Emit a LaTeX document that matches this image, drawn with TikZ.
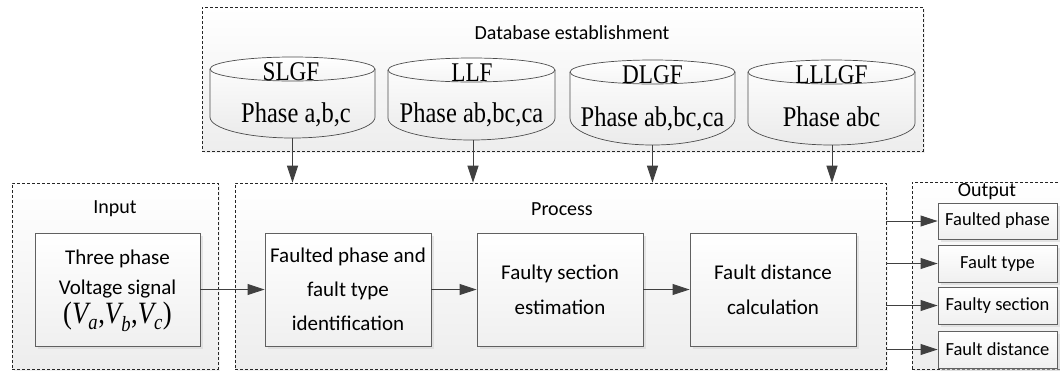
\documentclass[tikz,border=0pt]{standalone}
\usepackage{fontspec}
\setmainfont{Liberation Serif}
\newfontfamily\calfont{Carlito}
\newfontfamily\cylfont{Liberation Serif}[FakeStretch=0.86]
\usetikzlibrary{arrows.meta,shadows,fit}
\definecolor{arrgray}{HTML}{404040}
\definecolor{boxgray}{HTML}{606060}
\begin{document}
\begin{tikzpicture}[x=1bp,y=-1bp,
  grp/.style={draw=black!85, dash pattern=on 3bp off 2bp, line width=0.7bp,
    top color=white, bottom color=black!7, inner sep=0pt,
    drop shadow={shadow xshift=2bp,shadow yshift=-2bp,fill=black!10}},
  procbox/.style={draw=boxgray, line width=0.9bp, top color=white, bottom color=black!6,
    inner sep=0pt,
    drop shadow={shadow xshift=3bp,shadow yshift=-3bp,fill=black!18}},
  outbox/.style={draw=boxgray, line width=0.9bp, top color=white, bottom color=black!6,
    inner sep=0pt,
    drop shadow={shadow xshift=3bp,shadow yshift=-3bp,fill=black!18}},
  lab/.style={font=\calfont\fontsize{20bp}{24bp}\selectfont, inner sep=0pt},
  outlabel/.style={font=\calfont\fontsize{18.5bp}{22bp}\selectfont, inner sep=0pt},
  boxtext/.style={align=center, inner sep=0pt, font=\calfont\fontsize{21bp}{35bp}\selectfont},
  cylfill/.style={top color=white, bottom color=black!8},
  cylline/.style={draw=black!70, line width=0.7bp},
  cyltitle/.style={font=\cylfont\fontsize{27bp}{30bp}\selectfont, anchor=base, inner sep=0pt},
  cyltext/.style={font=\cylfont\fontsize{28.5bp}{30bp}\selectfont, anchor=base, inner sep=0pt},
  arr/.style={draw=arrgray, line width=0.9bp, -{Triangle[length=17bp,width=11bp]}},
]
\useasboundingbox (0,0) rectangle (1060,371);

% group boxes
\node[grp, fit={(202,7) (923,151)}] (db) {};
\node[grp, fit={(12,183) (218,369)}] (inp) {};
\node[grp, fit={(235,183) (886,369)}] (proc) {};
\node[grp, fit={(912,182) (1064,369)}] (outg) {};

\node[lab] (dblab) at (572,33) {Database establishment};
\node[lab] (inplab) at (115,209) {Input};
\node[lab] (proclab) at (562,209) {Process};
\node[lab] (outlab) at (987,192) {Output};

% cylinders
\path[cylfill] (210,69) -- (210,117) arc[start angle=180,end angle=360,x radius=82.5bp,y radius=21bp] -- (375,69) arc[start angle=0,end angle=180,x radius=82.5bp,y radius=12bp] -- cycle;
\draw[cylline] (210,69) -- (210,117) arc[start angle=180,end angle=360,x radius=82.5bp,y radius=21bp] -- (375,69);
\draw[cylline, top color=white, bottom color=black!4] (292.5,69) ellipse[x radius=82.5bp,y radius=12bp];

\path[cylfill] (388,70) -- (388,118) arc[start angle=180,end angle=360,x radius=83.5bp,y radius=22bp] -- (555,70) arc[start angle=0,end angle=180,x radius=83.5bp,y radius=12bp] -- cycle;
\draw[cylline] (388,70) -- (388,118) arc[start angle=180,end angle=360,x radius=83.5bp,y radius=22bp] -- (555,70);
\draw[cylline, top color=white, bottom color=black!4] (471.5,70) ellipse[x radius=83.5bp,y radius=12bp];

\path[cylfill] (570,72) -- (570,118) arc[start angle=180,end angle=360,x radius=82.5bp,y radius=27bp] -- (735,72) arc[start angle=0,end angle=180,x radius=82.5bp,y radius=12bp] -- cycle;
\draw[cylline] (570,72) -- (570,118) arc[start angle=180,end angle=360,x radius=82.5bp,y radius=27bp] -- (735,72);
\draw[cylline, top color=white, bottom color=black!4] (652.5,72) ellipse[x radius=82.5bp,y radius=12bp];

\path[cylfill] (748,72) -- (748,123) arc[start angle=180,end angle=360,x radius=83.5bp,y radius=22bp] -- (915,72) arc[start angle=0,end angle=180,x radius=83.5bp,y radius=12bp] -- cycle;
\draw[cylline] (748,72) -- (748,123) arc[start angle=180,end angle=360,x radius=83.5bp,y radius=22bp] -- (915,72);
\draw[cylline, top color=white, bottom color=black!4] (831.5,72) ellipse[x radius=83.5bp,y radius=12bp];

\node[cyltitle] (t1) at (291,80) {SLGF};
\node[cyltext] (p1) at (296,122) {Phase a,b,c};
\node[cyltitle] (t2) at (472,81) {LLF};
\node[cyltext] (p2) at (471.5,122) {Phase ab,bc,ca};
\node[cyltitle] (t3) at (652.5,83) {DLGF};
\node[cyltext] (p3) at (652.5,126) {Phase ab,bc,ca};
\node[cyltitle] (t4) at (831.5,83) {LLLGF};
\node[cyltext] (p4) at (831.5,126) {Phase abc};

\coordinate (c1) at (292.5,138);
\coordinate (c2) at (473,140);
\coordinate (c3) at (652.5,145);
\coordinate (c4) at (832,145);

% process boxes
\node[procbox, fit={(35,233) (200,346)}] (vin) {};
\node[align=center, inner sep=0pt, font=\calfont\fontsize{21bp}{30bp}\selectfont] (vintext) at (117.5,291) {Three phase\\Voltage signal\\[-1bp]\cylfont\fontsize{31bp}{30bp}\selectfont (\textit{V}\kern-2.5bp\raisebox{-2bp}{\textsubscript{\textit{a}}},\textit{V}\kern-2.5bp\raisebox{-2bp}{\textsubscript{\textit{b}}},\textit{V}\kern-2.5bp\raisebox{-2bp}{\textsubscript{\textit{c}}})};
\node[procbox, fit={(265,233) (431,346)}] (b1) {};
\node[boxtext, font=\calfont\fontsize{21bp}{34bp}\selectfont] (b1t) at (b1.center) {Faulted phase and\\fault type\\identification};
\node[procbox, fit={(477,233) (643,346)}] (b2) {};
\node[boxtext] (b2t) at (b2.center) {Faulty section\\estimation};
\node[procbox, fit={(690,233) (856,346)}] (b3) {};
\node[boxtext] (b3t) at (b3.center) {Fault distance\\calculation};

% output boxes
\node[outbox, fit={(938,203) (1057,239)}] (o1) {};
\node[outlabel] (o1t) at (o1.center) {Faulted phase};
\node[outbox, fit={(938,245) (1057,282)}] (o2) {};
\node[outlabel] (o2t) at (o2.center) {Fault type};
\node[outbox, fit={(938,287) (1057,324)}] (o3) {};
\node[outlabel] (o3t) at (o3.center) {Faulty section};
\node[outbox, fit={(938,331) (1057,368)}] (o4) {};
\node[outlabel] (o4t) at (o4.center) {Fault distance};

% arrows
\draw[arr] (c1) -- (c1 |- proc.north);
\draw[arr] (c2) -- (c2 |- proc.north);
\draw[arr] (c3) -- (c3 |- proc.north);
\draw[arr] (c4) -- (c4 |- proc.north);
\draw[arr] (vin.east) -- (b1.west);
\draw[arr] (b1.east) -- (b2.west);
\draw[arr] (b2.east) -- (b3.west);
\draw[arr] (o1.west -| proc.east) -- (o1.west);
\draw[arr] (o2.west -| proc.east) -- (o2.west);
\draw[arr] (o3.west -| proc.east) -- (o3.west);
\draw[arr] (o4.west -| proc.east) -- (o4.west);
\end{tikzpicture}
\end{document}
